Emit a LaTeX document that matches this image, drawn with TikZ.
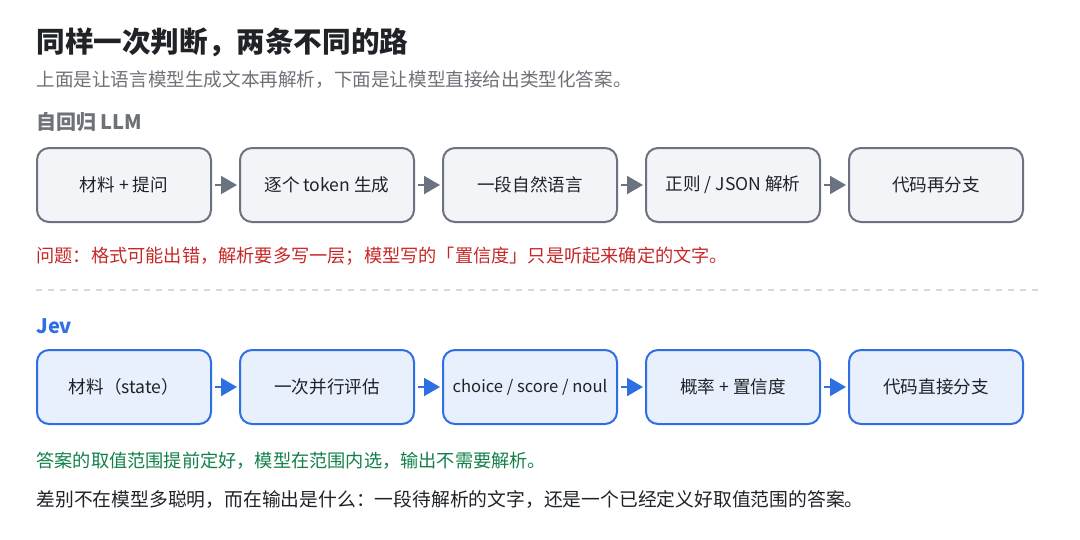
\documentclass[tikz,border=0pt]{standalone}
\usepackage{fontspec}
\setmainfont{Noto Sans CJK SC}
\usetikzlibrary{arrows.meta,positioning}
\definecolor{boxgray}{HTML}{6B7280}
\definecolor{fillgray}{HTML}{F3F4F8}
\definecolor{boxblue}{HTML}{2F6FE4}
\definecolor{fillblue}{HTML}{E8F0FD}
\definecolor{errred}{HTML}{C62828}
\definecolor{okgreen}{HTML}{13804A}
\definecolor{titleink}{HTML}{1F2328}
\definecolor{subink}{HTML}{6E7178}
\tikzset{
  stagebox/.style={rounded corners=6pt, line width=1pt, minimum width=87pt, minimum height=37pt, inner sep=1pt, font=\fontsize{8.8}{10}\selectfont, text=titleink},
  oldstep/.style={stagebox, draw=boxgray, fill=fillgray},
  newstep/.style={stagebox, draw=boxblue, fill=fillblue},
  oldflow/.style={-{Triangle[length=8pt,width=9pt]}, line width=1pt, boxgray, shorten <=1.5pt, shorten >=1pt},
  newflow/.style={-{Triangle[length=8pt,width=9pt]}, line width=1pt, boxblue, shorten <=1.5pt, shorten >=1pt},
  note/.style={anchor=west, inner sep=0pt}
}
\begin{document}
\begin{tikzpicture}[x=0.5pt,y=-0.5pt]
\useasboundingbox (0,0) rectangle (1080,540);
% headings
\node[note, font=\fontsize{14.3}{16}\selectfont\bfseries, text=titleink] (title) at (36,42) {同样一次判断，两条不同的路};
\node[note, font=\fontsize{9.3}{11}\selectfont, text=subink] (sub) at (36,80) {上面是让语言模型生成文本再解析，下面是让模型直接给出类型化答案。};
\node[note, font=\fontsize{10}{12}\selectfont\bfseries, text=subink] (llm) at (36,122) {自回归 LLM};
% autoregressive row
\node[oldstep] (a1) at (124,185) {材料 + 提问};
\node[oldstep, right=13.5pt of a1] (a2) {逐个 token 生成};
\node[oldstep, right=13.5pt of a2] (a3) {一段自然语言};
\node[oldstep, right=13.5pt of a3] (a4) {正则 / JSON 解析};
\node[oldstep, right=13.5pt of a4] (a5) {代码再分支};
\foreach \i/\j in {a1/a2,a2/a3,a3/a4,a4/a5}
  \draw[oldflow] (\i) -- (\j);
\node[note, font=\fontsize{9.1}{11}\selectfont, text=errred] (issue) at (36,256) {问题：格式可能出错，解析要多写一层；模型写的「置信度」只是听起来确定的文字。};
% divider
\coordinate (d1) at (36,290);
\coordinate (d2) at (1044,290);
\draw[line width=0.6pt, gray!30, dash pattern=on 3pt off 3pt] (d1) -- (d2);
\node[note, font=\fontsize{10}{12}\selectfont\bfseries, text=boxblue] (jev) at (36,326) {Jev};
% typed row
\node[newstep] (b1) at (124,387) {材料（state）};
\node[newstep, right=13.5pt of b1] (b2) {一次并行评估};
\node[newstep, right=13.5pt of b2] (b3) {\fontsize{8.3}{10}\selectfont choice / score / noul};
\node[newstep, right=13.5pt of b3] (b4) {概率 + 置信度};
\node[newstep, right=13.5pt of b4] (b5) {代码直接分支};
\foreach \i/\j in {b1/b2,b2/b3,b3/b4,b4/b5}
  \draw[newflow] (\i) -- (\j);
\node[note, font=\fontsize{9.1}{11}\selectfont, text=okgreen] (gain) at (36,461) {答案的取值范围提前定好，模型在范围内选，输出不需要解析。};
\node[note, font=\fontsize{9.4}{11}\selectfont, text=titleink] (sum) at (36,500) {差别不在模型多聪明，而在输出是什么：一段待解析的文字，还是一个已经定义好取值范围的答案。};
\end{tikzpicture}
\end{document}
